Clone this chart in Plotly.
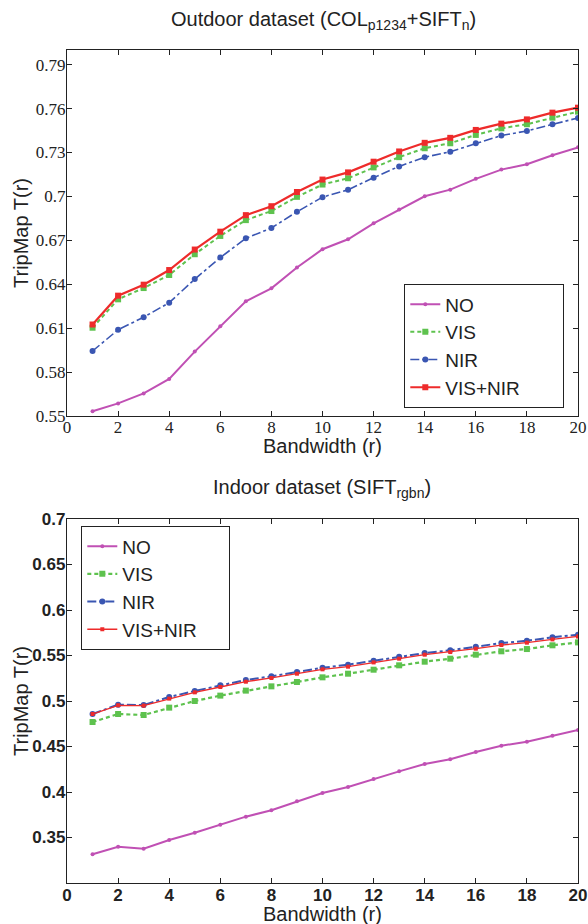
import plotly.graph_objects as go

W, H = 588, 924

r = list(range(1, 21))

# Outdoor dataset (top)
out_no = [0.5532, 0.5586, 0.5654, 0.5753, 0.5940, 0.6113, 0.6283, 0.6372, 0.6514, 0.6639,
          0.6707, 0.6816, 0.6911, 0.7001, 0.7046, 0.7120, 0.7183, 0.7220, 0.7281, 0.7335]
out_vis = [0.6103, 0.6297, 0.6374, 0.6463, 0.6605, 0.6730, 0.6838, 0.6900, 0.6997, 0.7081,
           0.7124, 0.7198, 0.7268, 0.7329, 0.7363, 0.7420, 0.7465, 0.7493, 0.7538, 0.7579]
out_nir = [0.5944, 0.6089, 0.6175, 0.6274, 0.6435, 0.6582, 0.6714, 0.6784, 0.6895, 0.6995,
           0.7045, 0.7128, 0.7205, 0.7268, 0.7305, 0.7363, 0.7416, 0.7447, 0.7493, 0.7536]
out_visnir = [0.6125, 0.6322, 0.6397, 0.6497, 0.6637, 0.6759, 0.6872, 0.6933, 0.7030, 0.7115,
              0.7164, 0.7237, 0.7307, 0.7366, 0.7400, 0.7454, 0.7497, 0.7526, 0.7572, 0.7606]

# Indoor dataset (bottom)
in_no = [0.3315, 0.3399, 0.3377, 0.3473, 0.3553, 0.3641, 0.3729, 0.3799, 0.3898, 0.3989,
         0.4055, 0.4143, 0.4227, 0.4308, 0.4359, 0.4440, 0.4509, 0.4553, 0.4619, 0.4681]
in_vis = [0.4769, 0.4857, 0.4846, 0.4927, 0.5000, 0.5059, 0.5114, 0.5161, 0.5209, 0.5260,
          0.5300, 0.5344, 0.5392, 0.5432, 0.5465, 0.5509, 0.5546, 0.5571, 0.5612, 0.5644]
in_nir = [0.4857, 0.4960, 0.4956, 0.5044, 0.5110, 0.5172, 0.5231, 0.5271, 0.5319, 0.5365,
          0.5399, 0.5443, 0.5487, 0.5527, 0.5557, 0.5597, 0.5637, 0.5662, 0.5700, 0.5729]
in_visnir = [0.4857, 0.4953, 0.4949, 0.5026, 0.5095, 0.5154, 0.5212, 0.5253, 0.5300, 0.5348,
             0.5377, 0.5424, 0.5465, 0.5509, 0.5538, 0.5575, 0.5615, 0.5641, 0.5677, 0.5710]

x_ticks = [0, 2, 4, 6, 8, 10, 12, 14, 16, 18, 20]
top_yticks = [0.55, 0.58, 0.61, 0.64, 0.67, 0.70, 0.73, 0.76, 0.79]
top_ytext = ["0.55", "0.58", "0.61", "0.64", "0.67", "0.7", "0.73", "0.76", "0.79"]
bot_yticks = [0.35, 0.40, 0.45, 0.50, 0.55, 0.60, 0.65, 0.70]
bot_ytext = ["0.35", "0.4", "0.45", "0.5", "0.55", "0.6", "0.65", "0.7"]

names = ["NO", "VIS", "NIR", "VIS+NIR"]
C_NO, C_VIS, C_NIR, C_VN = "#c050b4", "#5ec24e", "#3a56b2", "#ee2b2b"

NB = "\u00a0"


def px(x):
    return x / W


def py(y):
    return 1 - y / H


fig = go.Figure()

top_series = [out_no, out_vis, out_nir, out_visnir]
bot_series = [in_no, in_vis, in_nir, in_visnir]
styles = [
    dict(color=C_NO, dash="solid", width=2, symbol="circle", msize=4),
    dict(color=C_VIS, dash="4px,3px", width=2, symbol="square", msize=6),
    dict(color=C_NIR, dash="dashdot", width=1.6, symbol="circle", msize=6),
    dict(color=C_VN, dash="solid", width=2.2, symbol="square", msize=6),
]
bot_widths = [2, 2.2, 2, 1.3]
bot_msize = [4, 6, 6, 4]

top_pad = NB * 7
bot_pad = NB * 5

for name, ys, st in zip(names, top_series, styles):
    fig.add_trace(go.Scatter(
        x=r, y=ys, name=name + (top_pad if name == "VIS+NIR" else ""), mode="lines+markers",
        line=dict(color=st["color"], dash=st["dash"], width=st["width"]),
        marker=dict(symbol=st["symbol"], size=st["msize"], color=st["color"]),
        xaxis="x", yaxis="y", legend="legend"))

for name, ys, st, lw, ms in zip(names, bot_series, styles, bot_widths, bot_msize):
    fig.add_trace(go.Scatter(
        x=r, y=ys, name=name + (bot_pad if name == "VIS+NIR" else ""), mode="lines+markers",
        line=dict(color=st["color"], dash=st["dash"], width=lw),
        marker=dict(symbol=st["symbol"], size=ms, color=st["color"]),
        xaxis="x2", yaxis="y2", legend="legend2"))

xdom = [px(67), px(578)]
axis_common = dict(showline=True, linecolor="#222", linewidth=1.3, mirror="ticks",
                   ticks="inside", ticklen=5, tickcolor="#222", tickwidth=1,
                   showgrid=False, zeroline=False, automargin=False)

serif_tick = dict(family="Liberation Serif, Times New Roman, serif", size=17, color="#222")
bold_tick = dict(family="Liberation Sans, Arial, sans-serif", size=17, color="#222", weight="bold")
leg_font = dict(family="Liberation Sans, Arial, sans-serif", size=19, color="#222")

fig.update_layout(
    width=W, height=H,
    margin=dict(l=0, r=0, t=0, b=0),
    paper_bgcolor="white", plot_bgcolor="white",
    xaxis=dict(domain=xdom, range=[0, 20], tickvals=x_ticks, tickfont=serif_tick,
               anchor="y", ticklabelstandoff=-5, **axis_common),
    yaxis=dict(domain=[py(416), py(50)], range=[0.55, 0.80], tickvals=top_yticks,
               ticktext=top_ytext, tickfont=serif_tick, anchor="x", ticklabelstandoff=-3,
               **axis_common),
    xaxis2=dict(domain=xdom, range=[0, 20], tickvals=x_ticks, tickfont=bold_tick,
                anchor="y2", ticklabelstandoff=-4, **axis_common),
    yaxis2=dict(domain=[py(883), py(519)], range=[0.30, 0.70], tickvals=bot_yticks,
                ticktext=bot_ytext, tickfont=bold_tick, anchor="x2", ticklabelstandoff=-3,
                **axis_common),
    legend=dict(x=px(564), y=py(284), xanchor="right", yanchor="top",
                bgcolor="white", bordercolor="#222", borderwidth=1.3,
                font=leg_font, tracegroupgap=0, itemwidth=30),
    legend2=dict(x=px(81), y=py(526), xanchor="left", yanchor="top",
                 bgcolor="white", bordercolor="#222", borderwidth=1.3,
                 font=leg_font, tracegroupgap=0, itemwidth=30),
    showlegend=True,
)

sans = "Liberation Sans, Arial, sans-serif"
ann = [
    dict(text="Outdoor dataset (COL<sub>p1234</sub>+SIFT<sub>n</sub>)", x=px(324), y=py(20),
         font=dict(family=sans, size=20, color="#222")),
    dict(text="Indoor dataset (SIFT<sub>rgbn</sub>)", x=px(322), y=py(488),
         font=dict(family=sans, size=20, color="#222")),
    dict(text="Bandwidth (r)", x=px(322), y=py(446),
         font=dict(family=sans, size=20, color="#222")),
    dict(text="Bandwidth (r)", x=px(322), y=py(914),
         font=dict(family=sans, size=20, color="#222")),
    dict(text="TripMap T(r)", x=px(21), y=py(233), textangle=-90,
         font=dict(family=sans, size=20, color="#222")),
    dict(text="TripMap T(r)", x=px(21), y=py(701), textangle=-90,
         font=dict(family=sans, size=20, color="#222")),
]
for a in ann:
    fig.add_annotation(xref="paper", yref="paper", showarrow=False,
                       xanchor="center", yanchor="middle", **a)

fig.write_html("out.html", config={"displayModeBar": False},
               post_script="document.body.style.margin='0';document.body.style.overflow='hidden';")
